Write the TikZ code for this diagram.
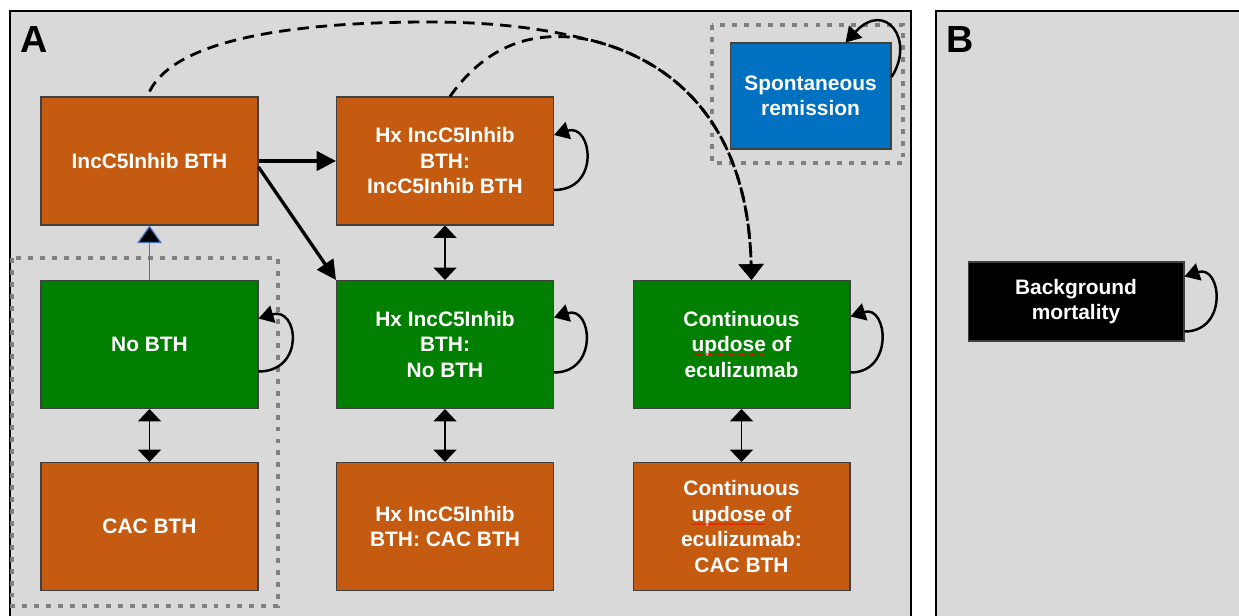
\documentclass[tikz,border=0pt]{standalone}
\usepackage{fontspec}
\setsansfont{Liberation Sans}
\usepackage{tikz}
\usetikzlibrary{arrows.meta,calc,decorations.pathmorphing}

\definecolor{bthorange}{HTML}{C55A11}
\definecolor{bthgreen}{HTML}{007F00}
\definecolor{remblue}{HTML}{0070C0}
\definecolor{panelgray}{HTML}{D9D9D9}
\definecolor{dotgray}{HTML}{808080}
\definecolor{linkblue}{HTML}{4472C4}

\begin{document}
\begin{tikzpicture}[x=0.02cm,y=-0.02cm,
  state/.style={draw=black!75,line width=0.6pt,text=white,align=center,
    minimum width=4.34cm,minimum height=2.56cm,inner sep=0pt,
    font=\sffamily\bfseries\fontsize{11.9}{14.5}\selectfont},
  bth/.style={state,fill=bthorange},
  nobth/.style={state,fill=bthgreen},
  group/.style={draw=dotgray,line width=2.8pt,dash pattern=on 2.8pt off 4pt},
  move/.style={line width=1.9pt,-{Triangle[width=11pt,length=11pt]}},
  swap/.style={line width=0.8pt,{Triangle[width=13pt,length=7pt]}-{Triangle[width=13pt,length=7pt]}},
  stay/.style={line width=1.4pt,-{Triangle[width=10pt,length=8.5pt]}},
  jump/.style={line width=1.6pt,dash pattern=on 6.5pt off 4pt,-{Triangle[width=14pt,length=9pt]}},
  spell/.style={red,line width=0.3pt,decorate,decoration={snake,amplitude=0.35pt,segment length=1.4pt}},
  panel/.style={font=\sffamily\bfseries\fontsize{21.5}{24}\selectfont,anchor=base west,inner sep=0pt}
]
\fill[white] (0,0) rectangle (1239,615);
\useasboundingbox (0,0) rectangle (1239,615);
\draw[fill=panelgray,line width=0.6pt] (10,11) rectangle (911,640);
\draw[fill=panelgray,line width=0.6pt] (936,11) rectangle (1260,640);
\node[panel] (pa) at (20,52) {A};
\node[panel] (pb) at (946,52) {B};

\draw[group] (12,258) rectangle (278,606);
\draw[group] (712,25) rectangle (903,163);

\node[bth] (inc) at (149.5,161) {IncC5Inhib BTH};
\node[bth] (hxinc) at (445,161) {Hx IncC5Inhib\\BTH:\\IncC5Inhib BTH};
\node[nobth] (nobth) at (149.5,344.5) {No BTH};
\node[bth] (cac) at (149.5,526.5) {CAC BTH};
\node[nobth] (hxno) at (445,344.5) {Hx IncC5Inhib\\BTH:\\No BTH};
\node[bth] (hxcac) at (445,526.5) {Hx IncC5Inhib\\BTH: CAC BTH};
\node[nobth] (cont) at (741.5,344.5) {Continuous\\updose of\\eculizumab};
\node[bth] (contcac) at (741.5,526.5) {Continuous\\updose of\\eculizumab:\\CAC BTH};
\node[state,fill=remblue,minimum width=3.22cm,minimum height=2.12cm] (rem) at (810.5,96) {Spontaneous\\remission};
\node[state,fill=black,minimum width=4.32cm,minimum height=1.58cm] (bg) at (1076,301.5) {Background\\mortality};

\draw[spell] ($(cont.center)+(-50,9.5)$) -- ($(cont.center)+(23,9.5)$);
\draw[spell] ($(contcac.center)+(-50,-2.5)$) -- ($(contcac.center)+(23,-2.5)$);

\draw[move] (inc.east) -- (hxinc.west);
\draw[move] ($(inc.east)+(0,6)$) -- (hxno.north west);
\draw[linkblue,line width=0.7pt,-{Triangle[width=14pt,length=10pt,fill=black]}] (nobth.north) -- (inc.south);
\draw[swap] (nobth.south) -- (cac.north);
\draw[swap] (hxinc.south) -- (hxno.north);
\draw[swap] (hxno.south) -- (hxcac.north);
\draw[swap] (cont.south) -- (contcac.north);

\draw[stay] ($(hxinc.east)+(0,29)$) .. controls +(47,0) and +(38,-12) .. ($(hxinc.east)+(0,-26)$);
\draw[stay] ($(nobth.east)+(0,27)$) .. controls +(47,0) and +(40,-12) .. ($(nobth.east)+(0,-26)$);
\draw[stay] ($(hxno.east)+(0,28)$) .. controls +(45,0) and +(38,-12) .. ($(hxno.east)+(0,-27)$);
\draw[stay] ($(cont.east)+(0,28)$) .. controls +(44,0) and +(37,-12) .. ($(cont.east)+(0,-28)$);
\draw[stay] ($(bg.east)+(0,30)$) .. controls +(44,0) and +(37,-12) .. ($(bg.east)+(0,-25)$);
\draw[stay] ($(rem.east)+(0,-19)$) .. controls +(24,-37) and +(40,-43) .. ($(rem.north)+(35,0)$);

\draw[jump] ($(inc.north)+(0,-5)$) .. controls (175,40) and (290,22) .. (430,22)
  .. controls (500,22) and (550,30) .. (590,40)
  .. controls (680,62) and (748,130) .. ($(cont.north)+(10,0)$);
\draw[jump] ($(hxinc.north)+(5,0)$) .. controls (490,40) and (540,30) .. (590,40)
  .. controls (680,62) and (748,130) .. ($(cont.north)+(10,0)$);
\end{tikzpicture}
\end{document}
